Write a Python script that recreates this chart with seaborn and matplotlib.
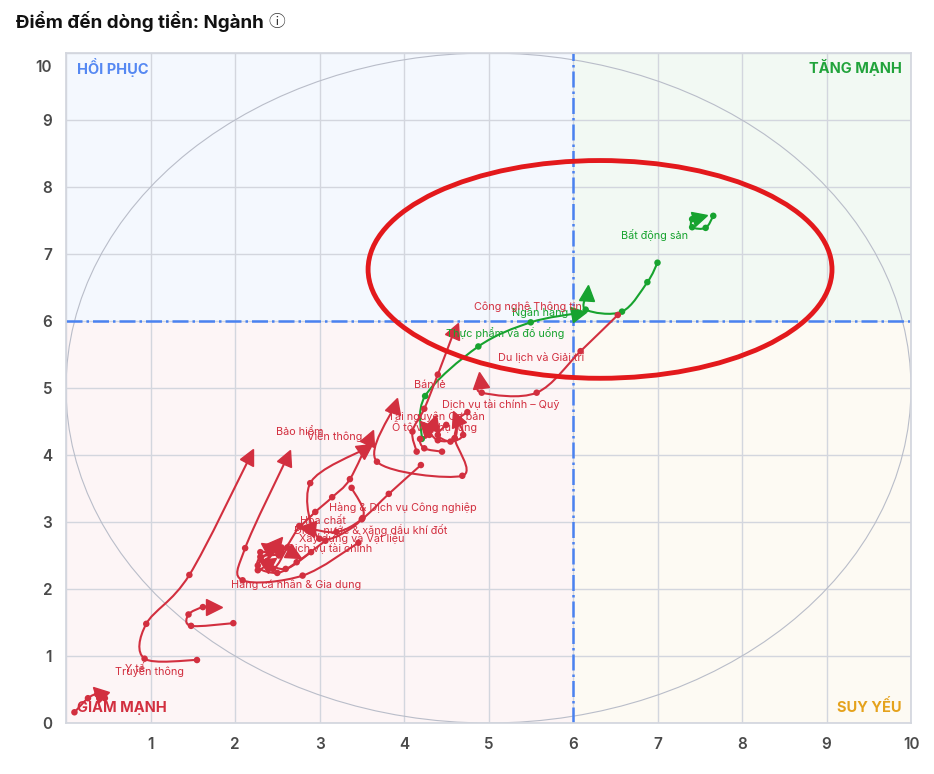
import numpy as np
import pandas as pd
import matplotlib
matplotlib.use("Agg")
import matplotlib.pyplot as plt
import seaborn as sns
from matplotlib.path import Path
from matplotlib.patches import PathPatch, Ellipse, Rectangle
from matplotlib.markers import MarkerStyle
from matplotlib.transforms import Affine2D, ScaledTranslation

# --- data (x = RS score, y = momentum score, 5 steps, last = now)
INDUSTRIES = [
    "Bất động sản", "Ngân hàng", "Thực phẩm và đồ uống", "Du lịch và Giải trí",
    "Bán lẻ", "Ô tô và phụ tùng", "Tài nguyên Cơ bản", "Công nghệ Thông tin",
    "Dịch vụ tài chính – Quỹ", "Hàng & Dịch vụ Công nghiệp", "Viễn thông",
    "Bảo hiểm", "Truyền thông", "Hàng cá nhân & Gia dụng", "Y tế", "Dầu khí",
    "Dịch vụ tài chính", "Xây dựng và Vật liệu", "Hóa chất",
    "Điện, nước & xăng dầu khí đốt",
]
TREND = ["up", "up", "up"] + ["down"] * 17

TRAIL_X = [
    [7.66, 7.57, 7.41, 7.41, 7.50],
    [4.21, 4.25, 4.88, 5.50, 6.07],
    [7.00, 6.88, 6.58, 6.15, 6.17],
    [6.53, 6.09, 5.57, 4.92, 4.90],
    [4.15, 4.10, 4.24, 4.40, 4.60],
    [4.66, 4.60, 4.69, 3.68, 3.89],
    [4.75, 4.64, 4.60, 4.40, 4.25],
    [4.45, 4.24, 4.19, 4.30, 4.35],
    [4.50, 4.40, 4.55, 4.70, 4.62],
    [4.20, 3.82, 3.50, 3.20, 2.85],
    [2.77, 2.95, 3.15, 3.36, 3.60],
    [3.38, 3.51, 3.00, 2.89, 3.55],
    [1.55, 0.93, 0.95, 1.46, 2.18],
    [3.46, 2.80, 2.09, 2.12, 2.62],
    [1.98, 1.48, 1.45, 1.62, 1.75],
    [0.10, 0.26, 0.37, 0.46, 0.38],
    [3.07, 2.73, 2.50, 2.27, 2.50],
    [2.76, 2.55, 2.30, 2.27, 2.42],
    [2.62, 2.45, 2.30, 2.52, 2.38],
    [2.90, 2.60, 2.38, 2.55, 2.70],
]
TRAIL_Y = [
    [7.57, 7.39, 7.40, 7.52, 7.55],
    [4.24, 4.88, 5.62, 5.98, 6.12],
    [6.87, 6.58, 6.14, 6.17, 6.42],
    [6.09, 5.55, 4.93, 4.93, 5.12],
    [4.05, 4.35, 4.69, 5.20, 5.87],
    [4.50, 4.25, 3.69, 3.90, 4.74],
    [4.64, 4.52, 4.25, 4.22, 4.42],
    [4.05, 4.10, 4.24, 4.30, 4.50],
    [4.45, 4.30, 4.20, 4.30, 4.55],
    [3.85, 3.42, 3.04, 2.85, 2.91],
    [2.93, 3.15, 3.37, 3.64, 4.27],
    [3.51, 3.06, 2.75, 3.58, 4.10],
    [0.94, 0.96, 1.48, 2.21, 3.98],
    [2.69, 2.20, 2.13, 2.61, 3.97],
    [1.49, 1.45, 1.62, 1.73, 1.73],
    [0.16, 0.37, 0.43, 0.37, 0.47],
    [2.72, 2.40, 2.24, 2.35, 2.68],
    [2.94, 2.55, 2.48, 2.28, 2.40],
    [2.62, 2.30, 2.55, 2.50, 2.62],
    [2.55, 2.30, 2.42, 2.62, 2.52],
]
# label anchors (data units), None = label hidden in the original
LABEL_X = [6.97, 5.61, 5.20, 5.62, 4.31, 4.36, 4.38, 5.47, 5.14, 3.99, 3.18,
           2.77, 0.99, 2.72, 0.82, None, 3.12, 3.38, 3.04, 3.60]
LABEL_Y = [7.28, 6.12, 5.82, 5.45, 5.04, 4.42, 4.58, 6.21, 4.75, 3.21, 4.28,
           4.34, 0.78, 2.07, 0.81, None, 2.60, 2.75, 3.01, 2.88]

QUADRANTS = ["HỒI PHỤC", "TĂNG MẠNH", "GIẢM MẠNH", "SUY YẾU"]
TICKS = list(range(0, 11))

RED = "#d22f3f"
GREEN = "#17a32f"
COLORS = {"up": GREEN, "down": RED}

rows = []
for name, tr, xs, ys in zip(INDUSTRIES, TREND, TRAIL_X, TRAIL_Y):
    for step, (x, y) in enumerate(zip(xs, ys)):
        rows.append({"industry": name, "trend": tr, "step": step, "x": x, "y": y})
df = pd.DataFrame(rows)

sns.set_theme(style="white")
plt.rcParams["font.family"] = ["Inter", "DejaVu Sans"]

fig = plt.figure(figsize=(9.34, 7.74), dpi=100)
ax = fig.add_axes([66 / 934, 51 / 774, 845 / 934, 670 / 774])
ax.set_xlim(0, 10)
ax.set_ylim(0, 10)

# quadrant backgrounds
ax.add_patch(Rectangle((0, 6), 6, 4, color="#f4f8fe", zorder=0, lw=0))
ax.add_patch(Rectangle((6, 6), 4, 4, color="#f2f9f3", zorder=0, lw=0))
ax.add_patch(Rectangle((0, 0), 6, 6, color="#fdf5f6", zorder=0, lw=0))
ax.add_patch(Rectangle((6, 0), 4, 6, color="#fdfaf3", zorder=0, lw=0))

ax.set_xticks(TICKS)
ax.set_yticks(TICKS)
ax.set_xticklabels([""] + [str(t) for t in TICKS[1:]])
ax.grid(True, color="#d3d6de", lw=1, zorder=1)
ax.set_axisbelow(True)
for s in ax.spines.values():
    s.set_color("#d3d6de")
ax.tick_params(length=0, labelsize=11, labelcolor="#4a4a4a", pad=10)
for lab in ax.get_xticklabels() + ax.get_yticklabels():
    lab.set_fontweight("semibold")
top = ax.get_yticklabels()[-1]
top.set_transform(top.get_transform() + ScaledTranslation(0, -0.13, fig.dpi_scale_trans))

ax.add_patch(Ellipse((5, 5), 10, 10, fill=False, ec="#b9bdc9", lw=0.8, zorder=1))
ax.axvline(6, color="#4a82f0", lw=1.8, ls="-.", zorder=2)
ax.axhline(6, color="#4a82f0", lw=1.8, ls="-.", zorder=2)

qfont = dict(fontsize=10.5, fontweight="bold", zorder=3)
ax.text(0.13, 9.78, QUADRANTS[0], color="#5588f2", ha="left", va="center", **qfont)
ax.text(9.89, 9.78, QUADRANTS[1], color="#21a33b", ha="right", va="center", **qfont)
ax.text(0.13, 0.24, QUADRANTS[2], color="#d22f3f", ha="left", va="center", **qfont)
ax.text(9.89, 0.24, QUADRANTS[3], color="#e5a21c", ha="right", va="center", **qfont)


def smooth_path(xs, ys):
    p = np.column_stack([xs, ys])
    pe = np.vstack([p[0], p, p[-1]])
    verts, codes = [p[0]], [Path.MOVETO]
    for i in range(len(p) - 1):
        p0, p1, p2, p3 = pe[i], pe[i + 1], pe[i + 2], pe[i + 3]
        verts += [p1 + (p2 - p0) / 6, p2 - (p3 - p1) / 6, p2]
        codes += [Path.CURVE4] * 3
    return Path(verts, codes)


for name, tr, xs, ys in zip(INDUSTRIES, TREND, TRAIL_X, TRAIL_Y):
    c = COLORS[tr]
    ax.add_patch(PathPatch(smooth_path(xs, ys), fill=False, ec=c, lw=1.5, zorder=4))
    a = ax.transData.transform((xs[-2], ys[-2]))
    b = ax.transData.transform((xs[-1], ys[-1]))
    ang = np.degrees(np.arctan2(b[1] - a[1], b[0] - a[0]))
    mk = MarkerStyle("^", transform=Affine2D().rotate_deg(ang - 90))
    ax.plot(xs[-1], ys[-1], marker=mk, ms=11, color=c, ls="none", zorder=5)

sns.scatterplot(data=df[df["step"] < 4], x="x", y="y", hue="trend",
                palette=COLORS, s=22, linewidth=0, legend=False, ax=ax, zorder=5)

for name, tr, lx, ly in zip(INDUSTRIES, TREND, LABEL_X, LABEL_Y):
    if lx is None:
        continue
    ax.text(lx, ly, name, color=COLORS[tr], fontsize=7.8, ha="center", va="center", zorder=6)

# highlight ring
ax.add_patch(Ellipse((6.32, 6.77), 5.49, 3.25, fill=False, ec="#e3191c", lw=3.5, zorder=7))

ax.set_xlabel("")
ax.set_ylabel("")

fig.text(16 / 934, 1 - 22 / 774, "Điểm đến dòng tiền: Ngành", fontsize=13.5,
         fontweight="bold", color="#111111", ha="left", va="center")
fig.text(277 / 934, 1 - 22 / 774, "ⓘ", fontsize=12, color="#333333",
         ha="center", va="center", family=["Noto Sans CJK SC", "Noto Sans", "DejaVu Sans"])

fig.savefig("out.png", dpi=100)
